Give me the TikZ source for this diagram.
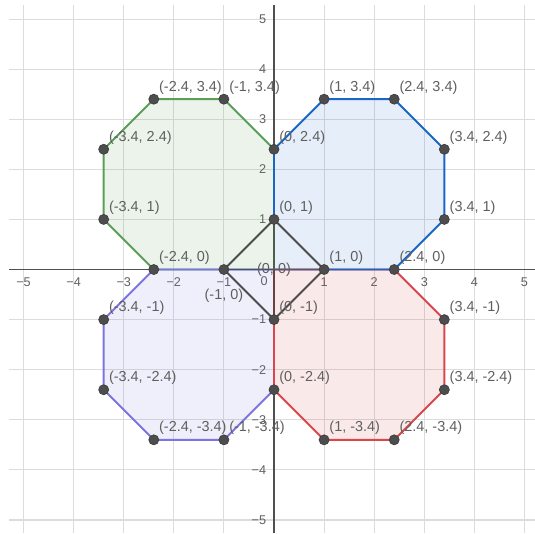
\documentclass[tikz,border=0pt]{standalone}
\usepackage{fontspec}
\setmainfont{Liberation Sans}
\usetikzlibrary{positioning}
\definecolor{gridline}{HTML}{DCDCDC}
\definecolor{axisline}{HTML}{505050}
\definecolor{ptgray}  {HTML}{4D4D4D}
\definecolor{lbl}     {HTML}{5F5F5F}
\definecolor{octgreen}{HTML}{5A9E58}
\definecolor{octblue} {HTML}{1A66C4}
\definecolor{octpurp} {HTML}{7C74E0}
\definecolor{octred}  {HTML}{D9474C}
\definecolor{midwest} {HTML}{4B4B6E}
\definecolor{midnorth}{HTML}{4B5F4B}
\definecolor{midsouth}{HTML}{6E4141}
\definecolor{mideast} {HTML}{73504B}
\tikzset{
  pt/.style={circle, fill=ptgray, draw=ptgray!80!black, inner sep=0pt, minimum size=0.2cm},
  coord/.style={font=\fontsize{8.2}{9}\selectfont, text=lbl, inner sep=0pt, anchor=base west, xshift=0.1cm, yshift=0.16cm},
  tick/.style={font=\fontsize{7.2}{8}\selectfont, text=lbl, inner sep=0pt},
  octedge/.style={line width=1.1pt, line join=round},
}
\begin{document}
\begin{tikzpicture}
  \useasboundingbox (-5.47,-5.26) rectangle (5.21,5.38);
  % grid and axes
  \foreach \k in {-5,...,5} {
    \draw[gridline, line width=0.6pt] (\k,-5.26) -- (\k,5.28);
    \draw[gridline, line width=0.6pt] (-5.29,\k) -- (5.21,\k);
  }
  \draw[axisline, line width=0.8pt] (-5.29,0) -- (5.21,0);
  \draw[axisline, line width=0.8pt] (0,-5.26) -- (0,5.28);
  \foreach \k/\t in {-5/−5,-4/−4,-3/−3,-2/−2,-1/−1,1/1,2/2,3/3,4/4,5/5} {
    \node[tick, anchor=north] (xt\k) at (\k,-0.15) {\t};
    \node[tick, anchor=east] (yt\k) at (-0.15,\k) {\t};
  }
  \node[tick, anchor=north east] (zt) at (-0.12,-0.13) {0};

  % vertices
  \coordinate (O) at (0,0);
  \coordinate (N1) at (0,1);    \coordinate (E1) at (1,0);
  \coordinate (S1) at (0,-1);   \coordinate (W1) at (-1,0);
  \coordinate (N2) at (0,2.4);  \coordinate (E2) at (2.4,0);
  \coordinate (S2) at (0,-2.4); \coordinate (W2) at (-2.4,0);
  \coordinate (nea) at (1,3.4);     \coordinate (neb) at (2.4,3.4);
  \coordinate (nec) at (3.4,2.4);   \coordinate (ned) at (3.4,1);
  \coordinate (nwa) at (-1,3.4);    \coordinate (nwb) at (-2.4,3.4);
  \coordinate (nwc) at (-3.4,2.4);  \coordinate (nwd) at (-3.4,1);
  \coordinate (swa) at (-3.4,-1);   \coordinate (swb) at (-3.4,-2.4);
  \coordinate (swc) at (-2.4,-3.4); \coordinate (swd) at (-1,-3.4);
  \coordinate (sea) at (1,-3.4);    \coordinate (seb) at (2.4,-3.4);
  \coordinate (sec) at (3.4,-2.4);  \coordinate (sed) at (3.4,-1);

  % octagons
  \filldraw[octedge, draw=octgreen, fill=octgreen, fill opacity=0.12]
    (O) -- (N2) -- (nwa) -- (nwb) -- (nwc) -- (nwd) -- (W2) -- cycle;
  \filldraw[octedge, draw=octpurp, fill=octpurp, fill opacity=0.12]
    (O) -- (W2) -- (swa) -- (swb) -- (swc) -- (swd) -- (S2) -- cycle;
  \filldraw[octedge, draw=octred, fill=octred, fill opacity=0.12]
    (O) -- (S2) -- (sea) -- (seb) -- (sec) -- (sed) -- (E2) -- cycle;
  \filldraw[octedge, draw=octblue, fill=octblue, fill opacity=0.11]
    (O) -- (E2) -- (ned) -- (nec) -- (neb) -- (nea) -- (N2) -- cycle;

  % inner square
  \draw[octedge, midwest] (W1) -- (O);
  \draw[octedge, midnorth] (O) -- (N1);
  \draw[octedge, midsouth] (O) -- (S1);
  \draw[octedge, mideast] (O) -- (E1);
  \draw[octedge, ptgray] (N1) -- (E1) -- (S1) -- (W1) -- cycle;

  % points
  \foreach \p in {N1,E1,S1,W1,N2,E2,S2,W2,nea,neb,nec,ned,nwa,nwb,nwc,nwd,swa,swb,swc,swd,sea,seb,sec,sed}
    \node[pt] (d\p) at (\p) {};

  % labels
  \node[coord] (lN1) at (N1) {(0, 1)};
  \node[coord] (lE1) at (E1) {(1, 0)};
  \node[coord] (lS1) at (S1) {(0, -1)};
  \node[font=\fontsize{8.2}{9}\selectfont, text=lbl, inner sep=0pt] (lW1) at (-1,-0.52) {(-1, 0)};
  \node[font=\fontsize{8.2}{9}\selectfont, text=lbl, inner sep=0pt] (lO) at (O) {(0, 0)};
  \node[coord] (lN2) at (N2) {(0, 2.4)};
  \node[coord] (lE2) at (E2) {(2.4, 0)};
  \node[coord] (lS2) at (S2) {(0, -2.4)};
  \node[coord] (lW2) at (W2) {(-2.4, 0)};
  \node[coord] (lnea) at (nea) {(1, 3.4)};
  \node[coord] (lneb) at (neb) {(2.4, 3.4)};
  \node[coord] (lnec) at (nec) {(3.4, 2.4)};
  \node[coord] (lned) at (ned) {(3.4, 1)};
  \node[coord] (lnwa) at (nwa) {(-1, 3.4)};
  \node[coord] (lnwb) at (nwb) {(-2.4, 3.4)};
  \node[coord] (lnwc) at (nwc) {(-3.4, 2.4)};
  \node[coord] (lnwd) at (nwd) {(-3.4, 1)};
  \node[coord] (lswa) at (swa) {(-3.4, -1)};
  \node[coord] (lswb) at (swb) {(-3.4, -2.4)};
  \node[coord] (lswc) at (swc) {(-2.4, -3.4)};
  \node[coord] (lswd) at (swd) {(-1, -3.4)};
  \node[coord] (lsea) at (sea) {(1, -3.4)};
  \node[coord] (lseb) at (seb) {(2.4, -3.4)};
  \node[coord] (lsec) at (sec) {(3.4, -2.4)};
  \node[coord] (lsed) at (sed) {(3.4, -1)};
\end{tikzpicture}
\end{document}
